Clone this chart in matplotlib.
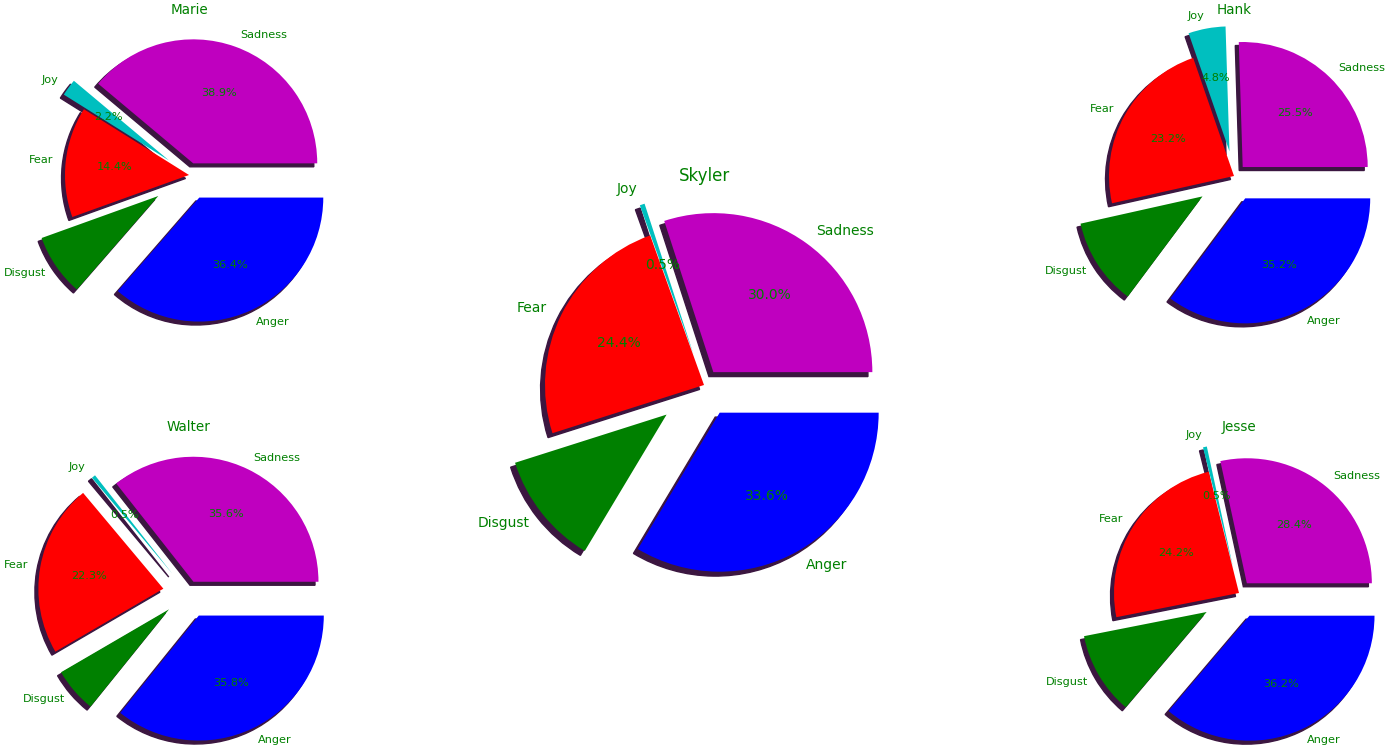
"""Emotion share per character, one exploded pie per character."""

import matplotlib
matplotlib.use("Agg")
import matplotlib.pyplot as plt

emotions = ["Sadness", "Joy", "Fear", "Disgust", "Anger"]
colors = ["m", "c", "r", "g", "b"]

marie = [38.9, 2.2, 14.4, 8.1, 36.4]
hank = [25.5, 4.8, 23.2, 11.3, 35.2]
walter = [35.6, 0.5, 22.3, 5.8, 35.8]
jesse = [28.4, 0.5, 24.2, 10.7, 36.2]
skyler = [30.0, 0.5, 24.4, 11.5, 33.6]

explode_default = [0.1, 0.2, 0.0, 0.3, 0.2]
explode_walter = [0.1, 0.2, 0.2, 0.2, 0.2]

W, H = 1400, 752
fig = plt.figure(figsize=(W / 100, H / 100), dpi=100)


def add_pie(name, values, explode, cx, cy, radius_px, fs):
    """Place a pie whose centre sits at pixel (cx, cy) with the given radius."""
    side = 2.5 * radius_px  # pie() sets limits to +-1.25
    ax = fig.add_axes([(cx - side / 2) / W, 1 - (cy + side / 2) / H, side / W, side / H])
    ax.pie(values, labels=emotions, colors=colors, explode=explode,
           autopct="%1.1f%%", startangle=0,
           shadow={"facecolor": "#3b1640", "edgecolor": "#3b1640", "alpha": 1.0},
           textprops={"color": "green", "fontsize": fs})
    ax.set_aspect("equal")
    ax.set_title(name, color="green", fontsize=fs * 1.2, pad=4)
    return ax


# small pies in the corners, larger one in the middle
add_pie("Marie", marie, explode_default, 189, 175, 124, 8.1)
add_pie("Hank", hank, explode_default, 1234, 176, 125, 8.1)
add_pie("Walter", walter, explode_walter, 188, 593, 125, 8.1)
add_pie("Jesse", jesse, explode_default, 1239, 593, 125, 8.1)
add_pie("Skyler", skyler, explode_default, 704, 385, 159, 10)

fig.savefig("out.png", dpi=100)
